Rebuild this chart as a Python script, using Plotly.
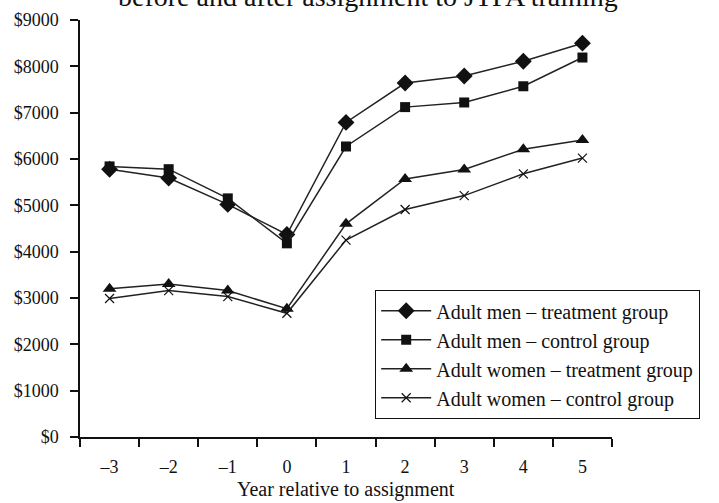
import plotly.graph_objects as go

years = [-3, -2, -1, 0, 1, 2, 3, 4, 5]
year_labels = ["–3", "–2", "–1", "0", "1", "2", "3", "4", "5"]

men_treatment = [5780, 5590, 5020, 4370, 6790, 7640, 7790, 8110, 8500]
men_control = [5840, 5780, 5150, 4180, 6270, 7120, 7220, 7570, 8190]
women_treatment = [3200, 3300, 3160, 2770, 4600, 5570, 5775, 6210, 6410]
women_control = [2990, 3160, 3030, 2670, 4250, 4910, 5210, 5680, 6020]

y_ticks = [0, 1000, 2000, 3000, 4000, 5000, 6000, 7000, 8000, 9000]
y_tick_labels = ["$0", "$1000", "$2000", "$3000", "$4000", "$5000", "$6000", "$7000", "$8000", "$9000"]

series = [
    ("Adult men – treatment group", men_treatment, dict(symbol="diamond", size=13)),
    ("Adult men – control group", men_control, dict(symbol="square", size=10)),
    ("Adult women – treatment group", women_treatment, dict(symbol="triangle-up", size=12)),
    ("Adult women – control group", women_control, dict(symbol="x-thin-open", size=9, line=dict(width=1.2, color="#111"))),
]

FONT = "Liberation Serif"

fig = go.Figure()
for name, vals, mk in series:
    marker = dict(color="#111", **mk)
    fig.add_trace(go.Scatter(
        x=years, y=vals, name=name, mode="lines+markers",
        line=dict(color="#222", width=1.5), marker=marker,
    ))

fig.update_layout(
    width=719, height=503,
    margin=dict(l=80, r=107, t=20, b=66, autoexpand=False),
    paper_bgcolor="white", plot_bgcolor="white",
    font=dict(family=FONT, color="#111", size=18),
    showlegend=True,
    legend=dict(
        x=0.5545, xanchor="left", y=0.043, yanchor="bottom",
        bgcolor="white", bordercolor="#111", borderwidth=1.2,
        font=dict(family=FONT, size=20, color="#111"),
        itemwidth=50, tracegroupgap=0,
    ),
    annotations=[
        dict(
            text="before and after assignment to JTPA training",
            xref="paper", yref="paper", x=0.541, y=1.015,
            xanchor="center", yanchor="bottom", showarrow=False,
            font=dict(family=FONT, size=28, color="#111"),
        ),
        dict(
            text="Year relative to assignment",
            xref="paper", yref="paper", x=0.5, y=-0.125,
            xanchor="center", yanchor="middle", showarrow=False,
            font=dict(family=FONT, size=20, color="#111"),
        ),
    ],
)

fig.update_xaxes(
    range=[-3.5, 5.5], tickmode="array", tickvals=years, ticktext=year_labels,
    ticks="outside", ticklen=13, tickcolor="rgba(0,0,0,0)",
    minor=dict(tickmode="array", tickvals=[y - 0.5 for y in years] + [5.5],
               ticks="outside", ticklen=8, tickwidth=1.5, tickcolor="#111"),
    showline=True, linecolor="#111", linewidth=1.5,
    showgrid=False, zeroline=False, automargin=False,
    tickfont=dict(family=FONT, size=18, color="#111"),
)
fig.update_yaxes(
    range=[0, 9000], tickmode="array", tickvals=y_ticks, ticktext=y_tick_labels,
    ticks="outside", ticklen=8, tickwidth=1.5, tickcolor="#111",
    showline=True, linecolor="#111", linewidth=1.5,
    showgrid=False, zeroline=False, automargin=False,
    tickfont=dict(family=FONT, size=18, color="#111"),
    ticklabelstandoff=8,
)

fig.write_html("out.html", config={"displayModeBar": False},
               post_script="document.body.style.margin='0px';")
